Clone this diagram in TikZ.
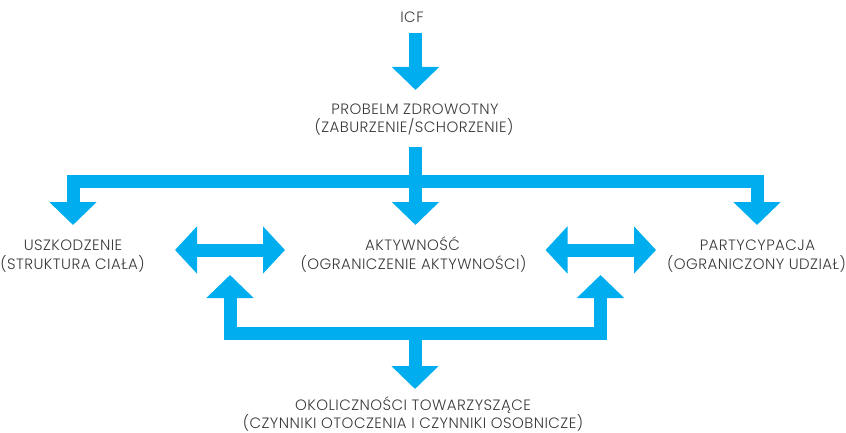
\documentclass[tikz,border=0pt]{standalone}
\usepackage{fontspec}
\setmainfont{Poppins Light}[LetterSpace=3]
\usetikzlibrary{arrows.meta}
\definecolor{blu}{HTML}{00AEEF}
\definecolor{txt}{HTML}{3A3A3A}
\begin{document}
\begin{tikzpicture}[x=1pt,y=-1pt,
  lbl/.style={anchor=base,inner sep=0pt,text=txt,font=\fontsize{15}{18.5}\selectfont},
  blk/.style={draw=blu,line width=13pt,line join=miter,-{Triangle[width=46pt,length=23pt]}},
  dbl/.style={draw=blu,line width=13pt,{Triangle[width=46pt,length=22pt]}-{Triangle[width=46pt,length=22pt]}}]
\useasboundingbox (0,0) rectangle (846,433);
% labels
\node[lbl] (icf) at (412,22.3) {ICF};
\node[lbl] (prob) at (415,115) {PROBELM ZDROWOTNY};
\node[lbl] (probb) at (414,133) {(ZABURZENIE/SCHORZENIE)};
\node[lbl] (uszk) at (73,250.5) {USZKODZENIE};
\node[lbl] (uszkb) at (72.5,269) {(STRUKTURA CIAŁA)};
\node[lbl] (akt) at (412.5,250.5) {AKTYWNOŚĆ};
\node[lbl] (aktb) at (413.5,269) {(OGRANICZENIE AKTYWNOŚCI)};
\node[lbl] (part) at (757.5,250.5) {PARTYCYPACJA};
\node[lbl] (partb) at (756.5,269) {(OGRANICZONY UDZIAŁ)};
\node[lbl] (okol) at (413,410.5) {OKOLICZNOŚCI TOWARZYSZĄCE};
\node[lbl] (okolb) at (413,428) {(CZYNNIKI OTOCZENIA I CZYNNIKI OSOBNICZE)};
% arrow end points
\coordinate (icfS) at (415.5,33);
\coordinate (probN) at (415.5,90);
\coordinate (probS) at (415.5,147);
\coordinate (split) at (415.5,181);
\coordinate (uszkN) at (73,225);
\coordinate (aktN) at (415.5,225);
\coordinate (partN) at (757,225);
\coordinate (ua) at (175,250);
\coordinate (au) at (285,250);
\coordinate (ap) at (545.5,250);
\coordinate (pa) at (656,250);
\coordinate (join) at (415,333.5);
\coordinate (upL) at (230,275);
\coordinate (upR) at (600.5,275);
\coordinate (okolN) at (415,389);
% arrows
\draw[blk] (icfS) -- (probN);
\draw[blk] (probS) -- (aktN);
\draw[blk] (split) -| (uszkN);
\draw[blk] (split) -| (partN);
\draw[dbl] (ua) -- (au);
\draw[dbl] (ap) -- (pa);
\draw[blk] (join) -| (upL);
\draw[blk] (join) -| (upR);
\draw[blk] (join) -- (okolN);
\end{tikzpicture}
\end{document}
